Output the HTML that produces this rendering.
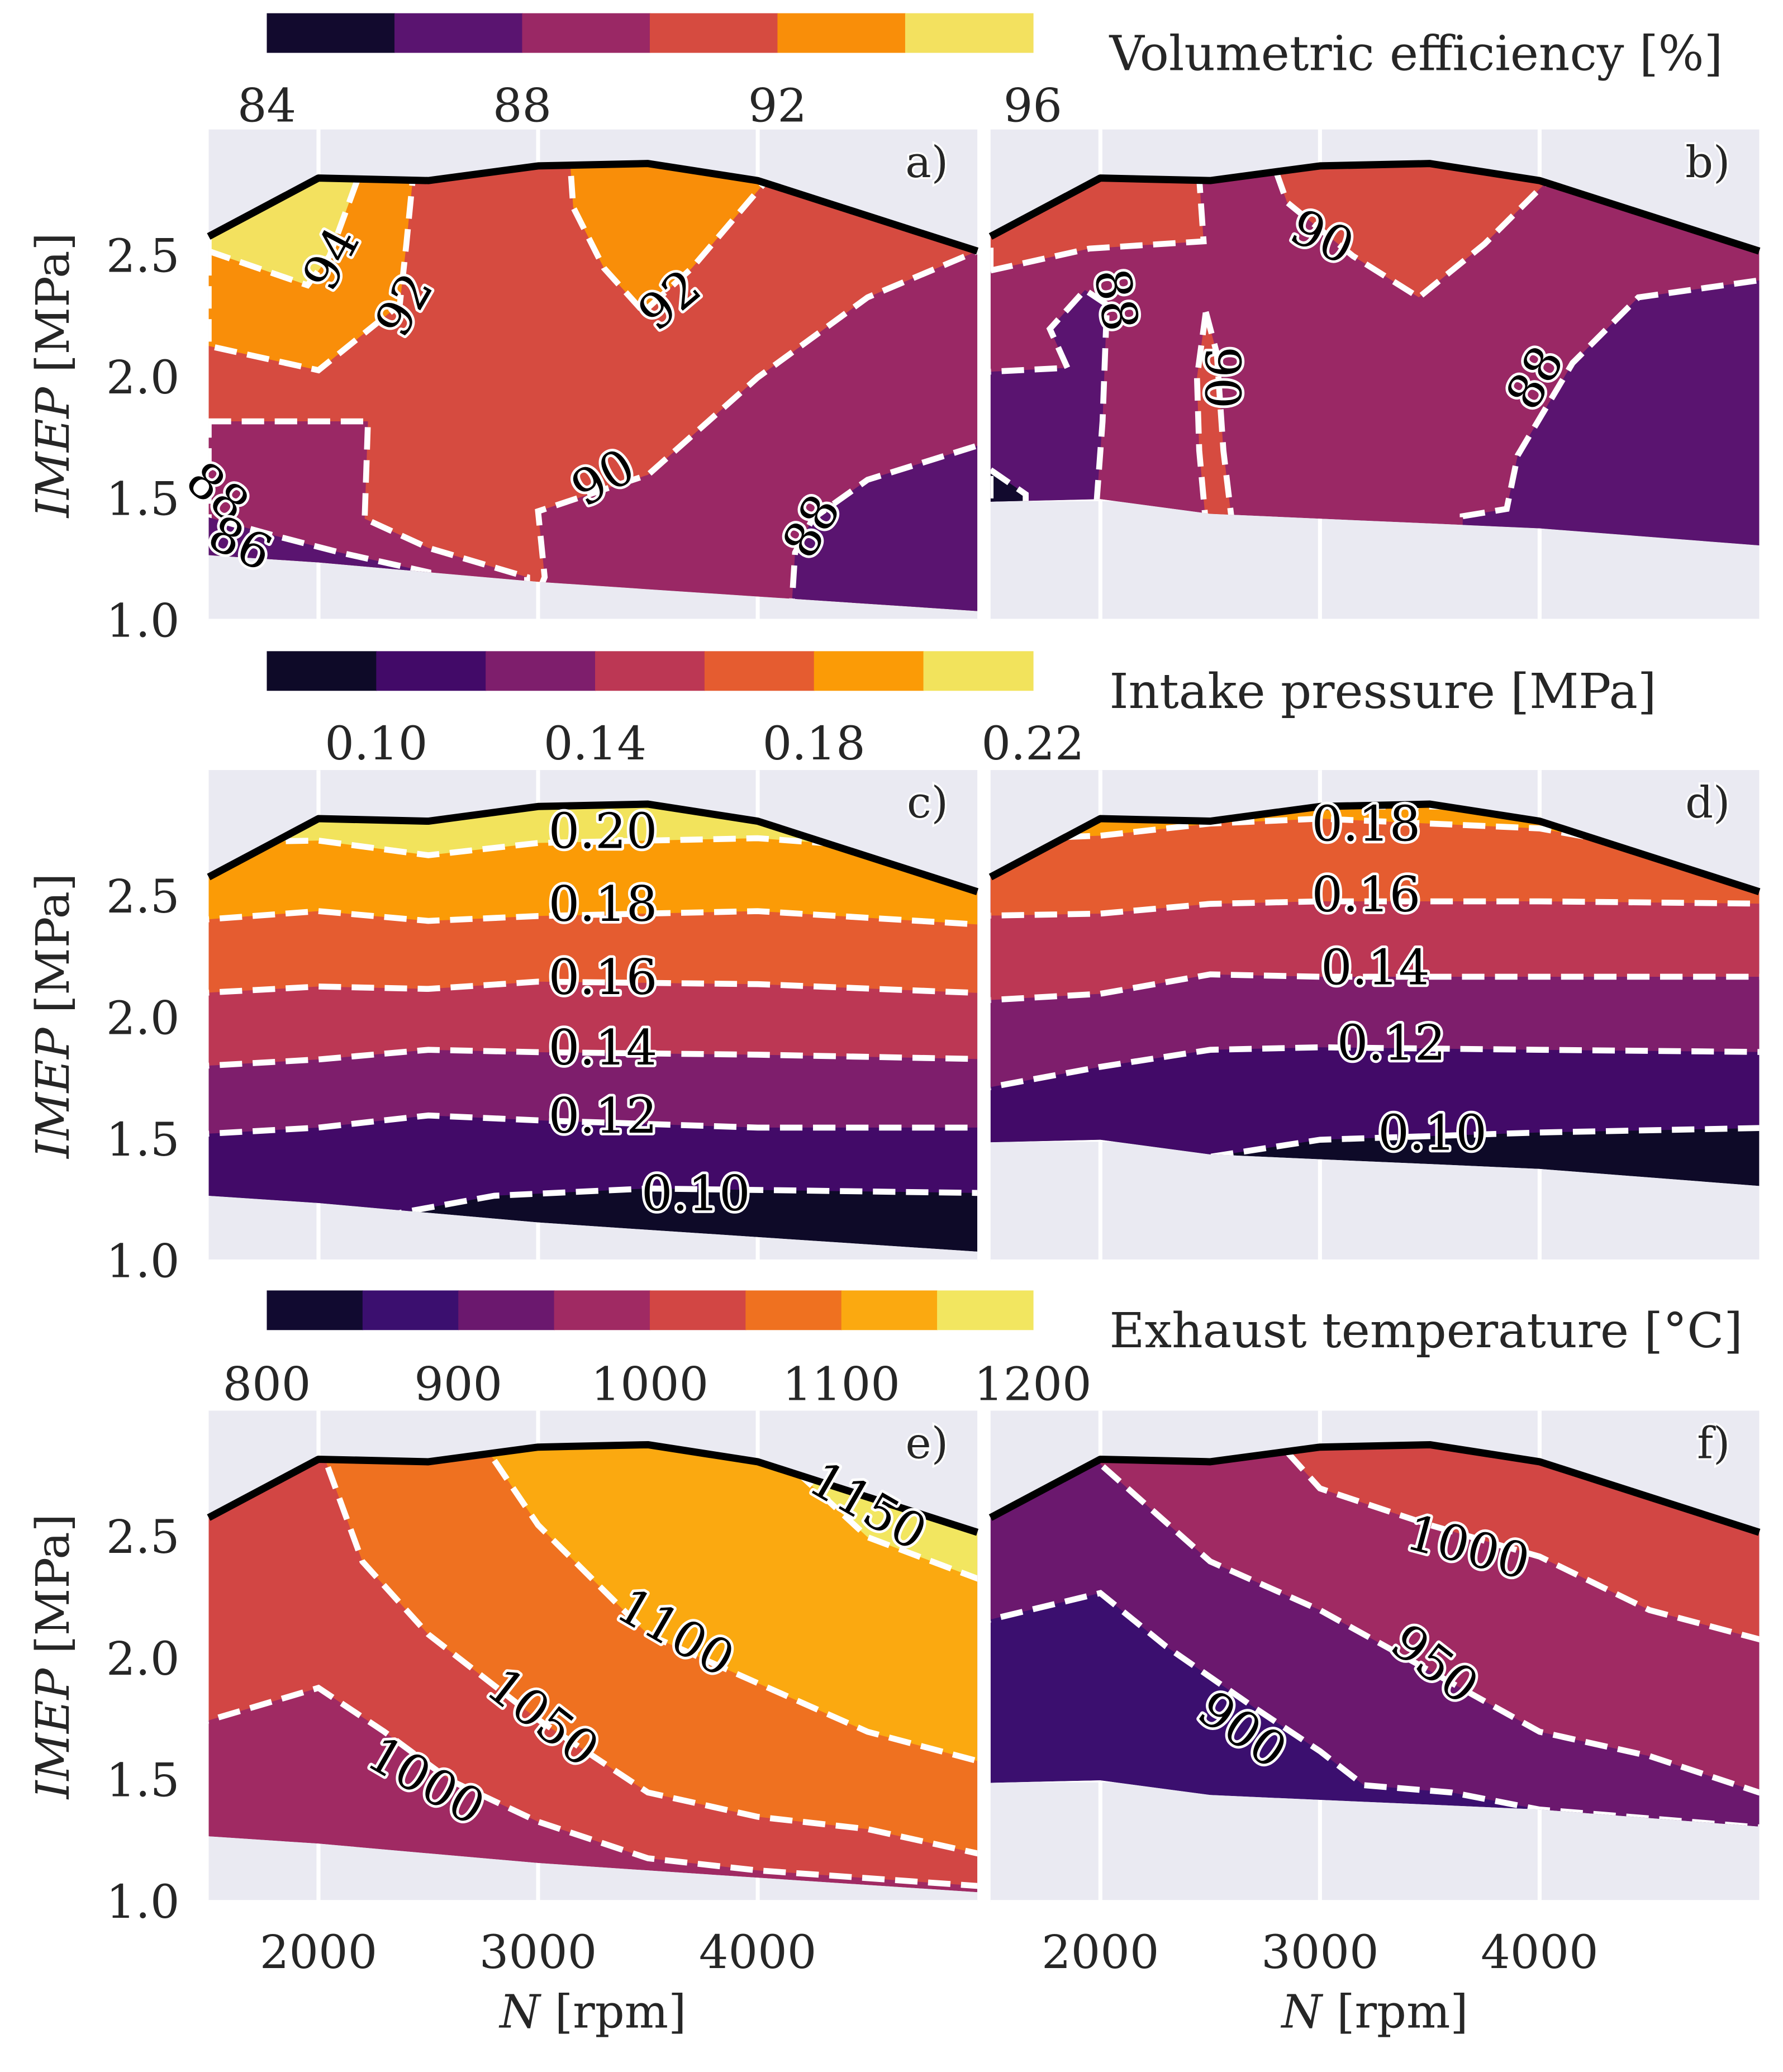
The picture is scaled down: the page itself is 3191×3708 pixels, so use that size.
<!DOCTYPE html>
<html><head><meta charset="utf-8"><style>
html,body{margin:0;padding:0;background:#fff}
svg{display:block}
text{font-family:"DejaVu Serif","Liberation Serif",serif}
</style></head><body>
<svg id="fig" xmlns="http://www.w3.org/2000/svg" width="3191" height="3708" viewBox="0 0 1350 1568.7">
<rect width="1350" height="1568.7" fill="#fff"/>
</svg>
<script>
// ---------- data ----------
const xTicks = [2000, 3000, 4000];
const yTicks = [1.0, 1.5, 2.0, 2.5];
const envN = [1500, 2000, 2500, 3000, 3500, 4000, 5000];
const envTop = [2.58, 2.82, 2.81, 2.87, 2.88, 2.81, 2.52];
const lowerA = [1.27, 1.24, 1.2, 1.16, 1.13, 1.1, 1.04];
const lowerB = [1.49, 1.5, 1.44, 1.42, 1.4, 1.38, 1.31];

const cbVeColors = ['#120a2e', '#5a1470', '#9a2865', '#d64b40', '#f98e09', '#f3e15f'];
const cbVeTicks = [84, 88, 92, 96];
const cbVeRange = [84, 96];
const cbPColors = ['#0e0a28', '#420a68', '#7e1e6c', '#bc3754', '#e55c30', '#fb9b06', '#f2e35c'];
const cbPTicks = ['0.10', '0.14', '0.18', '0.22'];
const cbPRange = [0.08, 0.22];
const cbTColors = ['#110a30', '#3b0f6f', '#6b186e', '#a02a63', '#d24644', '#ef7120', '#fba910', '#f2e660'];
const cbTTicks = [800, 900, 1000, 1100, 1200];
const cbTRange = [800, 1200];

const aBase = '#d64b40';
const aRegions = [
 ['#f98e09', [[1500,2.52],[1950,2.38],[2050,2.5],[2180,2.82],[2430,2.82],[2400,2.55],[2370,2.3],[2000,2.03],[1500,2.13]]],
 ['#f3e15f', [[1500,2.52],[1950,2.38],[2050,2.5],[2180,2.82],[2180,3.1],[1500,3.1]]],
 ['#f98e09', [[3130,3.1],[3160,2.7],[3300,2.45],[3480,2.27],[3700,2.45],[4050,2.82],[4050,3.1]]],
 ['#9a2865', [[2950,1.0],[3030,1.18],[3000,1.45],[3500,1.6],[4000,2.0],[4500,2.33],[5000,2.52],[5100,2.6],[5100,0.9],[2950,0.9]]],
 ['#9a2865', [[1500,1.82],[2225,1.82],[2210,1.42],[2500,1.3],[2950,1.18],[2950,0.9],[1500,0.9]]],
 ['#5a1470', [[1400,1.45],[1800,1.35],[2100,1.28],[2500,1.2],[2500,0.9],[1400,0.9]]],
 ['#5a1470', [[4150,1.0],[4170,1.28],[4250,1.42],[4500,1.58],[5000,1.72],[5100,1.75],[5100,0.9],[4150,0.9]]]
];
const aLabels = [[2056,2.49,'94',-62],[2388,2.3,'92',-60],[3597,2.32,'92',-40],[3295,1.59,'90',-30],[4243,1.39,'88',-60],[1542,1.53,'88',40],[1645,1.32,'86',25]];

const bBase = '#9a2865';
const bRegions = [
 ['#d64b40', [[1500,2.44],[1950,2.53],[2470,2.56],[2450,2.82],[2450,3.1],[1500,3.1]]],
 ['#d64b40', [[2700,3.1],[2850,2.72],[3150,2.5],[3450,2.33],[3750,2.55],[4050,2.82],[4050,3.1]]],
 ['#5a1470', [[3650,1.43],[3850,1.46],[3900,1.68],[4150,2.06],[4450,2.33],[5000,2.4],[5100,2.4],[5100,0.9],[3650,0.9]]],
 ['#5a1470', [[1400,2.02],[1850,2.04],[1770,2.2],[1930,2.36],[2030,2.3],[2010,1.82],[1980,1.45],[1400,1.45]]],
 ['#120a2e', [[1500,1.62],[1660,1.52],[1660,1.4],[1500,1.4]]],
 ['#d64b40', [[2480,2.27],[2530,2.1],[2560,1.7],[2600,1.4],[2480,1.4],[2450,1.7],[2440,2.0]]]
];
const bLabels = [[3011,2.58,'90',25],[2074,2.32,'88',80],[2557,2.0,'90',90],[3977,2.0,'88',-60]];

const cLevels = ['#0e0a28','#420a68','#7e1e6c','#bc3754','#e55c30','#fb9b06','#f2e35c'];
const cLines = [
 [[1400,1.0],[2250,1.18],[2800,1.27],[3500,1.3],[5100,1.28]],
 [[1400,1.52],[2000,1.55],[2500,1.6],[3000,1.58],[4000,1.55],[5100,1.55]],
 [[1400,1.8],[2000,1.83],[2500,1.87],[3000,1.86],[4000,1.85],[5100,1.83]],
 [[1400,2.1],[2000,2.13],[2500,2.12],[3000,2.15],[4000,2.14],[5100,2.1]],
 [[1400,2.4],[2000,2.44],[2500,2.4],[3000,2.42],[4000,2.44],[5100,2.38]],
 [[1400,2.72],[2000,2.73],[2500,2.67],[3000,2.72],[4000,2.74],[4600,2.7],[5100,2.6]]
];
const cLabels = [[3295,2.77,'0.20',0],[3295,2.47,'0.18',0],[3295,2.17,'0.16',0],[3295,1.88,'0.14',0],[3295,1.6,'0.12',0],[3718,1.28,'0.10',0]];

const dLevels = ['#0e0a28','#420a68','#7e1e6c','#bc3754','#e55c30','#fb9b06','#f2e35c'];
const dLines = [
 [[1400,1.0],[2500,1.43],[3000,1.5],[4000,1.53],[5100,1.55]],
 [[1400,1.7],[2000,1.8],[2500,1.87],[3000,1.88],[4000,1.87],[5100,1.86]],
 [[1400,2.07],[2000,2.1],[2500,2.18],[3000,2.17],[4000,2.17],[5100,2.17]],
 [[1400,2.42],[2000,2.43],[2500,2.47],[3000,2.48],[4000,2.48],[5100,2.47]],
 [[1400,2.73],[2000,2.75],[2500,2.8],[3000,2.82],[4000,2.78],[5100,2.6]],
 [[1400,2.95],[2500,2.84],[3000,2.87],[3600,2.87],[5100,2.95]]
];
const dLabels = [[3210,2.8,'0.18',0],[3210,2.51,'0.16',0],[3252,2.21,'0.14',0],[3325,1.9,'0.12',0],[3512,1.53,'0.10',0]];

const eLevels = ['#a02a63','#d24644','#ef7120','#fba910','#f2e660'];
const eLines = [
 [[1400,1.72],[2000,1.88],[2300,1.7],[2600,1.5],[3000,1.33],[3500,1.18],[4000,1.13],[5100,1.06]],
 [[2030,3.6],[2030,2.82],[2200,2.4],[2500,2.1],[3000,1.75],[3500,1.45],[4000,1.35],[4500,1.3],[5000,1.2],[5100,1.18]],
 [[2650,3.6],[2700,2.95],[3000,2.55],[3500,2.1],[4000,1.9],[4500,1.7],[5000,1.58],[5100,1.55]],
 [[4200,3.6],[4200,2.75],[4500,2.5],[5000,2.33],[5100,2.3]]
];
const eLabels = [[4503,2.63,'1150',30],[3627,2.11,'1100',30],[3023,1.76,'1050',38],[2491,1.5,'1000',30]];

const fLevels = ['#3b0f6f','#6b186e','#a02a63','#d24644'];
const fLines = [
 [[1400,2.14],[2000,2.27],[2300,2.05],[2700,1.8],[3000,1.62],[3200,1.48],[3600,1.45],[4000,1.38],[5100,1.3]],
 [[1980,3.6],[2000,2.8],[2500,2.4],[3000,2.2],[3500,1.95],[4000,1.7],[4500,1.6],[5000,1.45],[5100,1.43]],
 [[2600,3.6],[2700,3.0],[3000,2.7],[3500,2.55],[4000,2.42],[4500,2.2],[5000,2.08],[5100,2.05]]
];
const fLabels = [[3675,2.46,'1000',15],[3524,1.98,'950',38],[2648,1.71,'900',35]];

// ---------- drawing ----------
const NS = 'http://www.w3.org/2000/svg';
const svg = document.getElementById('fig');
function mk(tag, attrs, parent) {
  const el = document.createElementNS(NS, tag);
  for (const k in attrs) el.setAttribute(k, attrs[k]);
  (parent || svg).appendChild(el);
  return el;
}
const PW = 582, PH = 372, NMIN = 1500, NMAX = 5000, VMIN = 1.0, VMAX = 3.02;
const INK = '#262626';
function axX(x0) { return n => x0 + (n - NMIN) / (NMAX - NMIN) * PW; }
function axY(y0) { return v => y0 + PH - (v - VMIN) / (VMAX - VMIN) * PH; }
function pts(arr, fx, fy) { return arr.map(p => fx(p[0]).toFixed(1) + ',' + fy(p[1]).toFixed(1)).join(' '); }

let clipId = 0;
function panel(name, x0, y0, lower, base, letter, showX) {
  const fx = axX(x0), fy = axY(y0);
  const g = mk('g', {});
  
  
  const bg = mk('rect', {x: x0, y: y0, width: PW, height: PH, fill: '#eaeaf2'}, g);
  
  
  xTicks.forEach(t => {
    const l = mk('line', {x1: fx(t), x2: fx(t), y1: y0, y2: y0 + PH, stroke: '#fff', 'stroke-width': 3}, g);
    
    
  });
  yTicks.forEach(t => {
    const l = mk('line', {x1: x0, x2: x0 + PW, y1: fy(t), y2: fy(t), stroke: '#fff', 'stroke-width': 3}, g);
    
    
  });
  const env = envN.map((n, i) => [n, envTop[i]]).concat(envN.map((n, i) => [n, lower[i]]).reverse());
  const id = 'clip' + (clipId++);
  const cp = mk('clipPath', {id: id}, g);
  mk('polygon', {points: pts(env, fx, fy)}, cp);
  const cg = mk('g', {'clip-path': 'url(#' + id + ')'}, g);
  
  
  const basePoly = mk('polygon', {points: pts(env, fx, fy), fill: base}, cg);
  
  
  return {g: g, cg: cg, fx: fx, fy: fy, x0: x0, y0: y0, letter: letter, showX: showX};
}
function finish(P, labels) {
  const top = mk('polyline', {points: pts(envN.map((n, i) => [n, envTop[i]]), P.fx, P.fy), fill: 'none', stroke: '#000', 'stroke-width': 5.5, 'stroke-linejoin': 'round'}, P.g);
  
  
  labels.forEach(l => {
    const x = P.fx(l[0]), y = P.fy(l[1]);
    const tr = 'rotate(' + l[3] + ' ' + x + ' ' + y + ')';
    const halo = mk('text', {x: x, y: y + 13, fill: '#fff', stroke: '#fff', 'stroke-width': 4, 'stroke-linejoin': 'round', 'font-size': 37, 'text-anchor': 'middle', transform: tr}, P.g);
    halo.textContent = l[2];
    
    
    const t = mk('text', {x: x, y: y + 13, fill: '#000', 'font-size': 37, 'text-anchor': 'middle', transform: tr}, P.g);
    t.textContent = l[2];
    
    
  });
  const lt = mk('text', {x: P.x0 + PW - 22, y: P.y0 + 36, 'font-size': 33, 'text-anchor': 'end', fill: INK, stroke: '#fff', 'stroke-width': 3, 'paint-order': 'stroke'}, P.g);
  lt.textContent = P.letter;
  
  
  if (P.x0 < 500) {
    yTicks.forEach(t => {
      const tx = mk('text', {x: 136, y: P.fy(t) + 12, 'font-size': 35, 'text-anchor': 'end', fill: INK}, P.g);
      tx.textContent = t.toFixed(1);
      
      
    });
    const yl = mk('text', {x: 52, y: P.y0 + 186, 'font-size': 35, 'text-anchor': 'middle', fill: INK, transform: 'rotate(-90 52 ' + (P.y0 + 186) + ')'}, P.g);
    yl.innerHTML = '<tspan font-style="italic">IMEP</tspan> [MPa]';
    
    
  }
  if (P.showX) {
    xTicks.forEach(t => {
      const tx = mk('text', {x: P.fx(t), y: P.y0 + PH + 50, 'font-size': 35, 'text-anchor': 'middle', fill: INK}, P.g);
      tx.textContent = t;
      
      
    });
    const xl = mk('text', {x: P.x0 + PW / 2, y: P.y0 + PH + 95, 'font-size': 35, 'text-anchor': 'middle', fill: INK}, P.g);
    xl.innerHTML = '<tspan font-style="italic">N</tspan> [rpm]';
    
    
  }
}
function regionPanel(P, regions) {
  regions.forEach(r => {
    const p = mk('polygon', {points: pts(r[1], P.fx, P.fy), fill: r[0], stroke: '#fff', 'stroke-width': 4.5, 'stroke-dasharray': '17 8'}, P.cg);
    
    
  });
}
function linePanel(P, levels, lines) {
  lines.forEach((ln, i) => {
    const poly = ln.concat([[5100, 3.6], [ln[0][0] < 1500 ? 1400 : ln[0][0], 3.6]]);
    const p = mk('polygon', {points: pts(poly, P.fx, P.fy), fill: levels[i + 1]}, P.cg);
    
    
  });
  lines.forEach(ln => {
    const l = mk('polyline', {points: pts(ln, P.fx, P.fy), fill: 'none', stroke: '#fff', 'stroke-width': 4.5, 'stroke-dasharray': '17 8'}, P.cg);
    
    
  });
}
function colorbar(y, colors, ticks, range, title, tickY) {
  const g = mk('g', {});
  
  
  const x0 = 202, w = 580, sw = w / colors.length;
  colors.forEach((c, i) => {
    const r = mk('rect', {x: x0 + i * sw, y: y, width: sw + 0.5, height: 30, fill: c}, g);
    
    
  });
  ticks.forEach(t => {
    const x = x0 + (parseFloat(t) - range[0]) / (range[1] - range[0]) * w;
    const tx = mk('text', {x: x, y: tickY, 'font-size': 35, 'text-anchor': 'middle', fill: INK}, g);
    tx.textContent = t;
    
    
  });
  const tt = mk('text', {x: 840, y: y + 43, 'font-size': 36.5, fill: INK}, g);
  tt.textContent = title;
  
  
}

colorbar(10, cbVeColors, cbVeTicks, cbVeRange, 'Volumetric efficiency [%]', 92);
colorbar(493, cbPColors, cbPTicks, cbPRange, 'Intake pressure [MPa]', 575);
colorbar(977, cbTColors, cbTTicks, cbTRange, 'Exhaust temperature [°C]', 1060);

let P;
P = panel('a', 158, 98, lowerA, aBase, 'a)', false); regionPanel(P, aRegions); finish(P, aLabels);
P = panel('b', 750, 98, lowerB, bBase, 'b)', false); regionPanel(P, bRegions); finish(P, bLabels);
P = panel('c', 158, 583, lowerA, cLevels[0], 'c)', false); linePanel(P, cLevels, cLines); finish(P, cLabels);
P = panel('d', 750, 583, lowerB, dLevels[0], 'd)', false); linePanel(P, dLevels, dLines); finish(P, dLabels);
P = panel('e', 158, 1068, lowerA, eLevels[0], 'e)', true); linePanel(P, eLevels, eLines); finish(P, eLabels);
P = panel('f', 750, 1068, lowerB, fLevels[0], 'f)', true); linePanel(P, fLevels, fLines); finish(P, fLabels);
</script>
</body></html>
